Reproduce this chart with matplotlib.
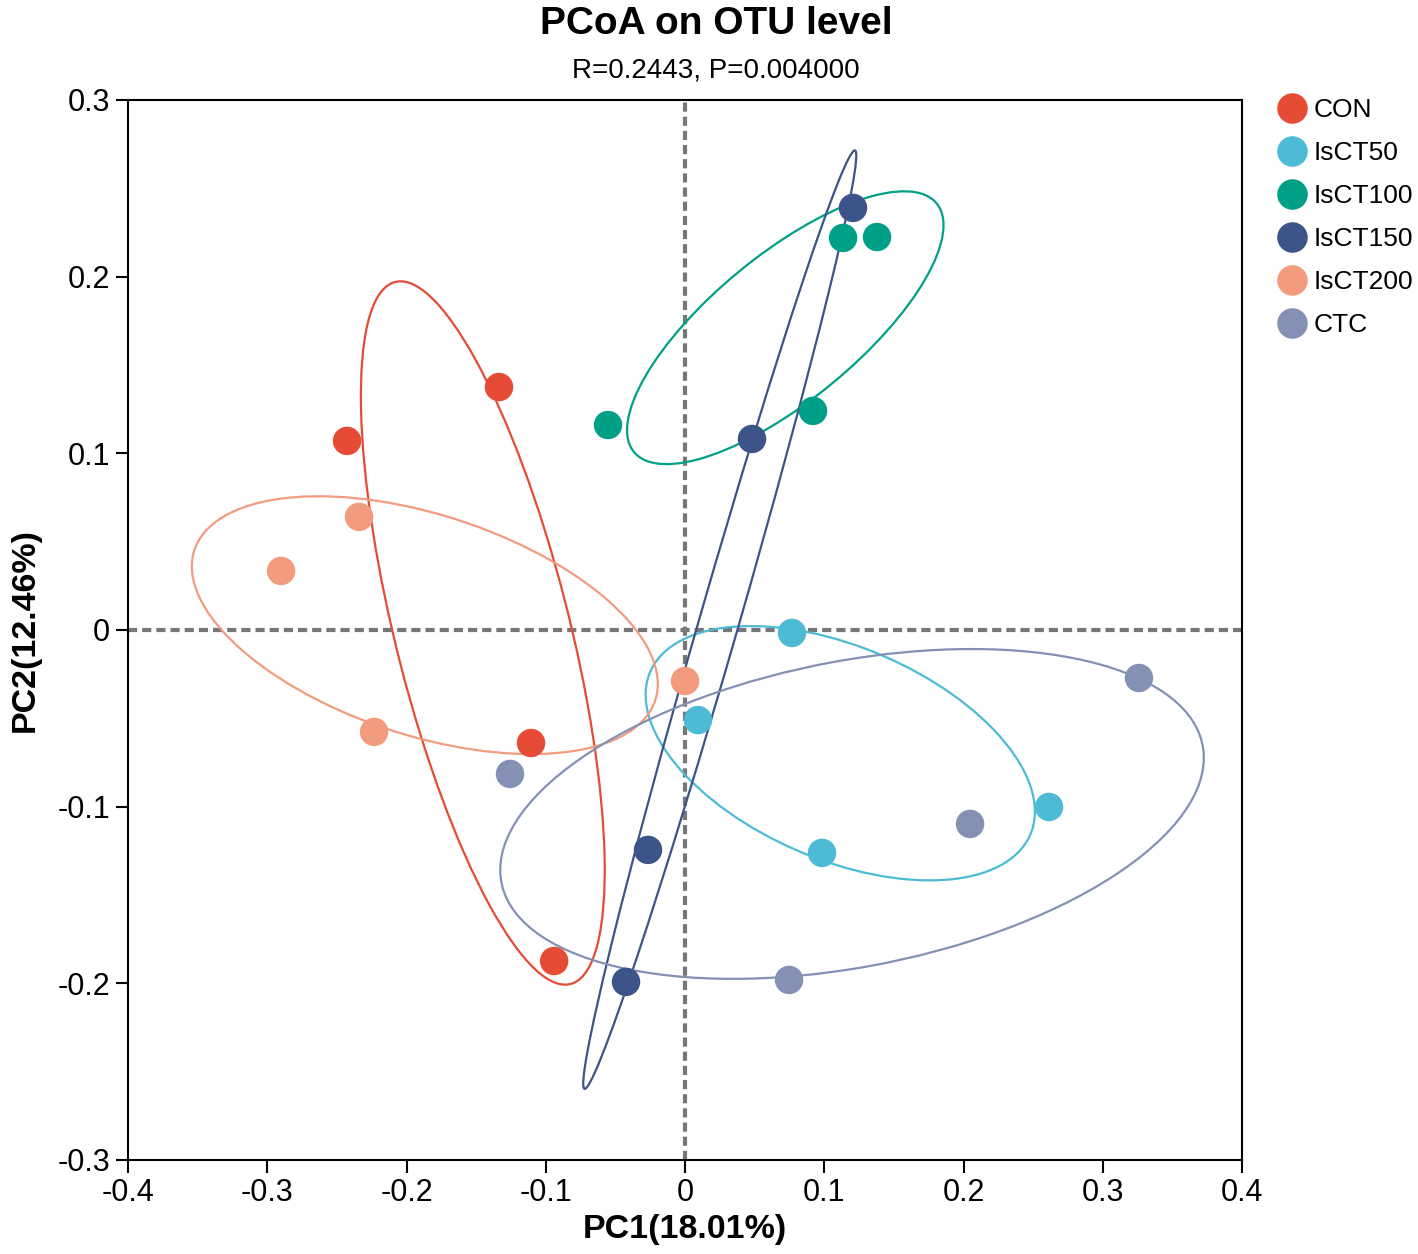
import numpy as np
import matplotlib
matplotlib.use("Agg")
import matplotlib.pyplot as plt
from matplotlib.patches import Ellipse
from matplotlib.lines import Line2D

plt.rcParams['font.family'] = ['Liberation Sans', 'DejaVu Sans']

groups = ["CON", "IsCT50", "IsCT100", "IsCT150", "IsCT200", "CTC"]
colors = ["#E64B35", "#4DBBD5", "#00A087", "#3C5488", "#F39B7F", "#8491B4"]

con_x = [-0.2427, -0.1336, -0.1106, -0.0940]
con_y = [0.1070, 0.1375, -0.0640, -0.1874]
isct50_x = [0.0768, 0.0093, 0.2614, 0.0984]
isct50_y = [-0.0017, -0.0510, -0.1002, -0.1262]
isct100_x = [-0.0553, 0.1135, 0.1379, 0.0919]
isct100_y = [0.1160, 0.2219, 0.2224, 0.1240]
isct150_x = [0.1206, 0.0481, -0.0266, -0.0424]
isct150_y = [0.2389, 0.1081, -0.1245, -0.1992]
isct200_x = [-0.2341, -0.2901, -0.2233, 0.0000]
isct200_y = [0.0640, 0.0334, -0.0577, -0.0289]
ctc_x = [0.3260, 0.2047, -0.1257, 0.0747]
ctc_y = [-0.0272, -0.1098, -0.0815, -0.1981]

xs = [con_x, isct50_x, isct100_x, isct150_x, isct200_x, ctc_x]
ys = [con_y, isct50_y, isct100_y, isct150_y, isct200_y, ctc_y]

xticks = [-0.4, -0.3, -0.2, -0.1, 0.0, 0.1, 0.2, 0.3, 0.4]
xticklabels = ["-0.4", "-0.3", "-0.2", "-0.1", "0", "0.1", "0.2", "0.3", "0.4"]
yticks = [-0.3, -0.2, -0.1, 0.0, 0.1, 0.2, 0.3]
yticklabels = ["-0.3", "-0.2", "-0.1", "0", "0.1", "0.2", "0.3"]

ELLIPSE_LEVEL = 0.68

fig = plt.figure(figsize=(14.18, 12.54), dpi=100)
ax = fig.add_axes([0.0903, 0.075, 0.7856, 0.8453])
ax.set_xlim(-0.4, 0.4)
ax.set_ylim(-0.3, 0.3)

ax.axvline(0, color="#777777", lw=3, ls=(0, (2.2, 1.2)), zorder=1)
ax.axhline(0, color="#777777", lw=3, ls=(0, (2.2, 1.2)), zorder=1)

r = np.sqrt(-2 * np.log(1 - ELLIPSE_LEVEL))
for gx, gy, c in zip(xs, ys, colors):
    pts = np.column_stack([gx, gy])
    mu = pts.mean(axis=0)
    cov = np.cov(pts.T, bias=True)
    vals, vecs = np.linalg.eigh(cov)
    order = vals.argsort()[::-1]
    vals, vecs = vals[order], vecs[:, order]
    ang = np.degrees(np.arctan2(vecs[1, 0], vecs[0, 0]))
    e = Ellipse(mu, 2 * r * np.sqrt(vals[0]), 2 * r * np.sqrt(vals[1]), angle=ang,
                fill=False, edgecolor=c, lw=1.6, zorder=2)
    ax.add_patch(e)

for g, gx, gy, c in zip(groups, xs, ys, colors):
    ax.scatter(gx, gy, s=420, color=c, edgecolor="none", zorder=3)

ax.set_xticks(xticks)
ax.set_xticklabels(xticklabels)
ax.set_yticks(yticks)
ax.set_yticklabels(yticklabels)
ax.tick_params(direction="out", length=9, width=1.5, labelsize=22, pad=4)
for sp in ax.spines.values():
    sp.set_linewidth(1.5)

ax.set_xlabel("PC1(18.01%)", fontsize=24.5, fontweight="bold", labelpad=4)
ax.set_ylabel("PC2(12.46%)", fontsize=24.5, fontweight="bold", labelpad=12)

fig.text(0.505, 0.981, "PCoA on OTU level", ha="center", va="center", fontsize=28, fontweight="bold")
fig.text(0.505, 0.944, "R=0.2443, P=0.004000", ha="center", va="center", fontsize=20)

handles = [Line2D([], [], marker="o", ls="none", markersize=22, markerfacecolor=c,
                  markeredgecolor="none") for c in colors]
fig.legend(handles, groups, loc="upper left", bbox_to_anchor=(0.889, 0.930), frameon=False,
           fontsize=19, handletextpad=0.0, labelspacing=0.72, borderaxespad=0, handlelength=1.6)

fig.savefig("out.png", dpi=100)
